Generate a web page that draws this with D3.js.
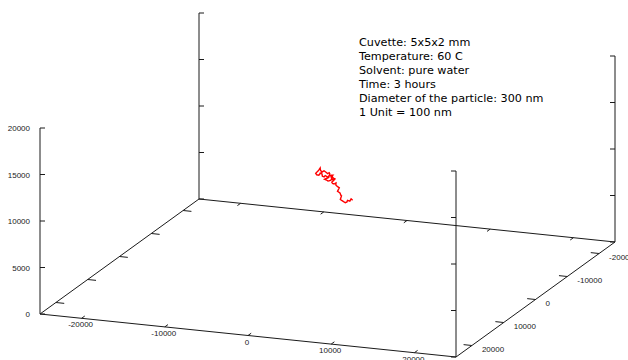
<!DOCTYPE html>
<html lang="en">
<head>
    <meta charset="UTF-8">
    <title>Particle trajectory</title>
    <script src="https://d3js.org/d3.v7.min.js"></script>
    <style>
        body { margin: 0; background: #fff; }
        .border { stroke: #1a1a1a; stroke-width: 1px; fill: none; }
        .tick { stroke: #1a1a1a; stroke-width: 1px; }
        .tick-label { font-family: "Liberation Sans", Arial, sans-serif; font-size: 8px; fill: #222; }
        .info { font-family: "DejaVu Sans", sans-serif; font-size: 11.2px; fill: #000; }
        .path { stroke: #ff0000; stroke-width: 1.4px; fill: none; }
    </style>
</head>
<body>
    <svg width="628" height="360"></svg>
    <script>
        // axis ticks (1 unit = 100 nm)
        const xTicks = [-20000, -10000, 0, 10000, 20000];
        const yTicks = [-20000, -10000, 0, 10000, 20000];
        const zTicks = [0, 5000, 10000, 15000, 20000];

        // particle trajectory
        const trackX = [780, 600, 420, 520, 660, 420, 180, 260, 300, 120,
                        -60, -180, -300, -480, -660, -780, -900, -1000, -1140, -1260,
                        -1380, -1200, -1020, -900, -800, -660, -540, -420, -300, -180,
                        -60, 60, -120, -300, -150, 60, 240, 420, 540, 660,
                        780, 900, 720, 540, 660, 780, 900, 1020, 1080, 1140,
                        1380, 1260, 1500, 1620, 1740, 1620, 1860, 2100, 2340, 2460,
                        2700, 2820, 3060];
        const trackY = [0, 150, -100, 200, 50, -150, 100, -50, 250, 0,
                        -200, 100, 300, -100, 50, 200, -50, 150, 0, -150,
                        100, 250, 50, -100, 150, 0, 200, -50, 100, 250,
                        0, -150, 50, 100, -100, 0, 150, 50, -50, 100,
                        200, 0, -100, 50, 150, -50, 100, 0, 200, 50,
                        -100, 150, 0, -50, 100, 200, 50, -100, 0, 150,
                        50, -50, 100];
        const trackZ = [10610, 10700, 10790, 10950, 11130, 11050, 10980, 11200, 11420, 11300,
                        11170, 11400, 11580, 11450, 11330, 11600, 11740, 11550, 11400, 11300,
                        11160, 11050, 10980, 11150, 11250, 11120, 10950, 10820, 10950, 11060,
                        10900, 10760, 10700, 10620, 10500, 10430, 10500, 10570, 10750, 10920,
                        10850, 10730, 10550, 10370, 10280, 10180, 10250, 10310, 10150, 10000,
                        9800, 9470, 9280, 8970, 9080, 8640, 8450, 8260, 8390, 8610,
                        8530, 8760, 8670];

        const infoLines = [
            "Cuvette: 5x5x2 mm",
            "Temperature: 60 C",
            "Solvent: pure water",
            "Time: 3 hours",
            "Diameter of the particle: 300 nm",
            "1 Unit = 100 nm"
        ];

        const svg = d3.select("svg");

        // box corners on screen: origin is front-left-bottom
        const origin = [40, 314];
        const xVec = [416, 43];     // full x range
        const yVec = [159, -115];   // full y range (front -> back)
        const zVec = [0, -186];     // full z range

        const fx = d3.scaleLinear().domain([-25000, 25000]).range([0, 1]);
        const fy = d3.scaleLinear().domain([25000, -25000]).range([0, 1]);
        const fz = d3.scaleLinear().domain([0, 20000]).range([0, 1]);

        function project(x, y, z) {
            const a = fx(x), b = fy(y), c = fz(z);
            return [
                origin[0] + a * xVec[0] + b * yVec[0] + c * zVec[0],
                origin[1] + a * xVec[1] + b * yVec[1] + c * zVec[1]
            ];
        }

        const line = d3.line();
        const g = svg.append("g");

        // base and verticals
        const base = [[-25000, 25000], [25000, 25000], [25000, -25000], [-25000, -25000]];
        g.append("path").attr("class", "border")
            .attr("d", line(base.map(p => project(p[0], p[1], 0))) + "Z");
        base.forEach(p => {
            g.append("path").attr("class", "border")
                .attr("d", line([project(p[0], p[1], 0), project(p[0], p[1], 20000)]));
        });

        // x ticks on front and back edges
        const tx = 0.02;
        xTicks.forEach(v => {
            const f = project(v, 25000, 0);
            g.append("line").attr("class", "tick")
                .attr("x1", f[0]).attr("y1", f[1])
                .attr("x2", f[0] + yVec[0] * tx).attr("y2", f[1] + yVec[1] * tx);
            const b = project(v, -25000, 0);
            g.append("line").attr("class", "tick")
                .attr("x1", b[0]).attr("y1", b[1])
                .attr("x2", b[0] - yVec[0] * tx).attr("y2", b[1] - yVec[1] * tx);
            g.append("text").attr("class", "tick-label")
                .attr("x", f[0] - 1).attr("y", f[1] + 9)
                .attr("text-anchor", "middle")
                .text(v);
        });

        // y ticks on left and right edges
        yTicks.forEach(v => {
            const l = project(-25000, v, 0);
            g.append("line").attr("class", "tick")
                .attr("x1", l[0]).attr("y1", l[1])
                .attr("x2", l[0] + xVec[0] * tx).attr("y2", l[1] + xVec[1] * tx);
            const r = project(25000, v, 0);
            g.append("line").attr("class", "tick")
                .attr("x1", r[0]).attr("y1", r[1])
                .attr("x2", r[0] - xVec[0] * tx).attr("y2", r[1] - xVec[1] * tx);
            g.append("text").attr("class", "tick-label")
                .attr("x", r[0] + 10).attr("y", r[1] + 6)
                .text(v);
        });

        // z ticks on all four verticals
        zTicks.forEach(v => {
            base.forEach((p, i) => {
                const q = project(p[0], p[1], v);
                const dir = (i === 0 || i === 3) ? 5 : -5;
                g.append("line").attr("class", "tick")
                    .attr("x1", q[0]).attr("y1", q[1])
                    .attr("x2", q[0] + dir).attr("y2", q[1]);
            });
            const a = project(-25000, 25000, v);
            g.append("text").attr("class", "tick-label")
                .attr("x", a[0] - 10).attr("y", a[1] + 3)
                .attr("text-anchor", "end")
                .text(v);
        });

        // trajectory
        const pts = trackX.map((x, i) => project(x, trackY[i], trackZ[i]));
        g.append("path").attr("class", "path").attr("d", line(pts));

        // info text
        svg.append("g").selectAll("text")
            .data(infoLines)
            .enter().append("text")
            .attr("class", "info")
            .attr("x", 359)
            .attr("y", (d, i) => 46 + i * 14)
            .text(d => d);
    </script>
</body>
</html>
